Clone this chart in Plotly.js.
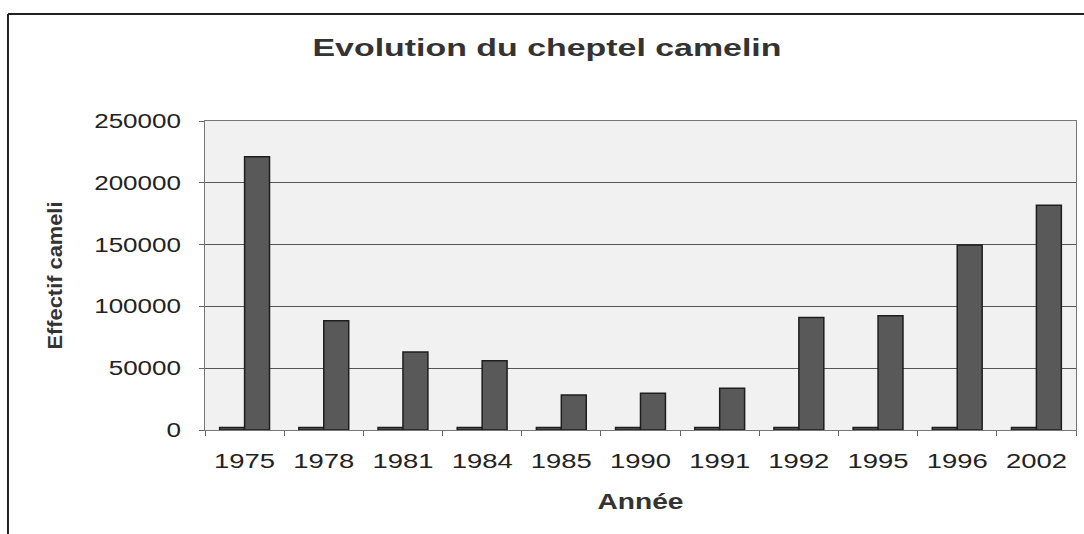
<!DOCTYPE html>
<html>
<head>
<meta charset="utf-8">
<script src="https://cdn.plot.ly/plotly-3.0.1.min.js"></script>
<style>
  html, body { margin: 0; padding: 0; background: #ffffff; }
  #chart { width: 1084px; height: 534px; }
</style>
</head>
<body>
<div id="chart"></div>
<script>
// ---- data ----
const years = ['1975', '1978', '1981', '1984', '1985', '1990', '1991', '1992', '1995', '1996', '2002'];
const anneeValues = [1975, 1978, 1981, 1984, 1985, 1990, 1991, 1992, 1995, 1996, 2002];
const effectifCamelin = [221000, 88400, 63100, 56100, 28300, 29700, 33700, 91000, 92400, 149700, 181800];
const yTickValues = [0, 50000, 100000, 150000, 200000, 250000];
const yTickLabels = ['0', '50000', '100000', '150000', '200000', '250000'];

const barStyle = { color: '#595959', line: { color: '#1e1e1e', width: 1.5 } };

const traces = [
  { type: 'bar', name: 'Année', x: years, y: anneeValues, marker: barStyle, hoverinfo: 'x+y' },
  { type: 'bar', name: 'Effectif cameli', x: years, y: effectifCamelin, marker: barStyle, hoverinfo: 'x+y' }
];

const layout = {
  width: 1084, height: 534,
  margin: { l: 205, r: 8, t: 121, b: 104 },
  paper_bgcolor: '#ffffff',
  plot_bgcolor: '#f1f1f1',
  showlegend: false,
  barmode: 'group',
  bargap: 0.37,
  bargroupgap: 0,
  font: { family: 'Liberation Sans, Arial, sans-serif', color: '#222222' },
  title: {
    text: '<b>Evolution du cheptel camelin</b>',
    font: { family: 'Liberation Sans, Arial, sans-serif', size: 24, color: '#333333' },
    xref: 'container', x: 0.5046, xanchor: 'center',
    yref: 'container', y: 0.911, yanchor: 'middle'
  },
  xaxis: {
    type: 'category',
    tickson: 'boundaries',
    ticks: 'outside', ticklen: 5, tickcolor: '#666666', tickwidth: 1,
    ticklabelstandoff: 13,
    tickfont: { size: 20, color: '#222222' },
    showline: true, linecolor: '#777777', linewidth: 1, mirror: true,
    showgrid: false,
    title: { text: '<b>Année</b>', font: { size: 22, color: '#333333' }, standoff: 22 }
  },
  yaxis: {
    range: [0, 250000],
    tickvals: yTickValues, ticktext: yTickLabels,
    ticks: 'outside', ticklen: 5, tickcolor: '#666666', tickwidth: 1,
    ticklabelstandoff: 14,
    tickfont: { size: 20, color: '#222222' },
    showline: true, linecolor: '#777777', linewidth: 1, mirror: true,
    showgrid: true, gridcolor: '#555555', gridwidth: 1,
    zeroline: false,
    title: { text: '<b>Effectif cameli</b>', font: { size: 20, color: '#333333' }, standoff: 46 }
  },
  shapes: [
    { type: 'line', xref: 'paper', yref: 'paper', x0: -0.2262, x1: 1.01, y0: 1.3463, y1: 1.3463,
      line: { color: '#222222', width: 2 } },
    { type: 'line', xref: 'paper', yref: 'paper', x0: -0.2262, x1: -0.2262, y0: 1.3463, y1: -0.34,
      line: { color: '#222222', width: 2 } }
  ]
};

function stretchText(el, factor, target) {
  const w = el.getComputedTextLength();
  if (!w) return;
  const len = target ? target : w * factor;
  el.setAttribute('textLength', len.toFixed(1));
  el.setAttribute('lengthAdjust', 'spacingAndGlyphs');
}

Plotly.newPlot('chart', traces, layout, { displayModeBar: false, staticPlot: true }).then(function (gd) {
  gd.querySelectorAll('.xtick text').forEach(function (t) { stretchText(t, 1.37); });
  gd.querySelectorAll('.ytick text').forEach(function (t) { stretchText(t, 1.3); });
  const gt = gd.querySelector('.gtitle');
  if (gt) stretchText(gt, 0, 469);
  const xt = gd.querySelector('.xtitle');
  if (xt) stretchText(xt, 0, 86);
  const yt = gd.querySelector('.ytitle');
  if (yt) stretchText(yt, 0, 148);
});
</script>
</body>
</html>
